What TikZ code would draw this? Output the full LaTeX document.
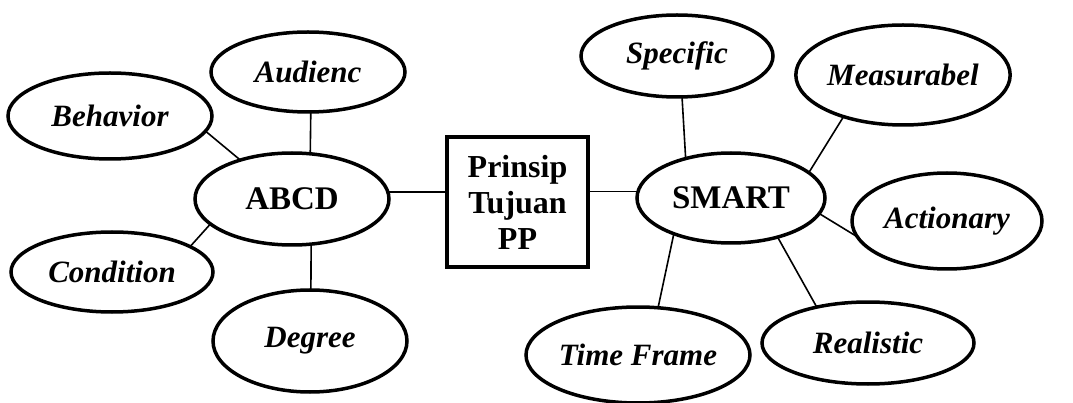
\documentclass[tikz,border=0pt]{standalone}
\usepackage{fontspec}
\setmainfont{Liberation Serif}
\usetikzlibrary{shapes.geometric}
\begin{document}
\begin{tikzpicture}[x=1pt,y=-1pt,
  oval/.style={draw,ellipse,line width=3.5pt,inner sep=0pt,outer sep=0pt,
    font=\fontsize{31}{36}\selectfont\bfseries\itshape},
  centre/.style={draw,ellipse,line width=3.5pt,inner sep=0pt,outer sep=0pt,
    font=\fontsize{33}{36}\selectfont\bfseries},
  link/.style={line width=1.6pt}]
\useasboundingbox (0,0) rectangle (1073,403);
% ABCD side
\node[centre,minimum width=194pt,minimum height=92pt] (abcd) at (292,199) {ABCD};
\node[oval,minimum width=194pt,minimum height=80pt] (aud) at (308,72) {Audienc};
\node[oval,minimum width=204pt,minimum height=86pt] (beh) at (110,116) {Behavior};
\node[oval,minimum width=202pt,minimum height=80pt] (con) at (112,272) {Condition};
\node[oval,minimum width=194pt,minimum height=102pt] (deg) at (310,341) {Degree};
% centre box
\node[draw,line width=3.5pt,minimum width=141pt,minimum height=130pt,align=center,
  font=\fontsize{32}{36}\selectfont\bfseries] (box) at (517.5,202) {Prinsip\\Tujuan\\PP};
% SMART side
\node[centre,minimum width=188pt,minimum height=90pt] (smart) at (731,198) {SMART};
\node[oval,minimum width=192pt,minimum height=82pt] (spe) at (677,56) {Specific};
\node[oval,minimum width=212pt,minimum height=100pt] (mea) at (903,75) {Measurabel};
\node[oval,minimum width=190pt,minimum height=96pt] (act) at (947,221) {Actionary};
\node[oval,minimum width=224pt,minimum height=96pt] (tim) at (638,355) {Time Frame};
\node[oval,minimum width=212pt,minimum height=82pt] (rea) at (868,343) {Realistic};
% connectors
\draw[link] (aud.-86) -- (abcd.68);
\draw[link] (beh.-9) -- (abcd.143.6);
\draw[link] (con.18) -- (abcd.197);
\draw[link] (deg.89) -- (abcd.-67.6);
\draw[link] (abcd.4) -- (abcd.4 -| box.west);
\draw[link] (box.east |- smart.176) -- (smart.176);
\draw[link] (spe.-83) -- (smart.139);
\draw[link] (mea.215.5) -- (smart.18);
\draw[link] (act.190.7) -- (smart.-10.6);
\draw[link] (tim.67.8) -- (smart.212.8);
\draw[link] (rea.145) -- (smart.-40.6);
\end{tikzpicture}
\end{document}
